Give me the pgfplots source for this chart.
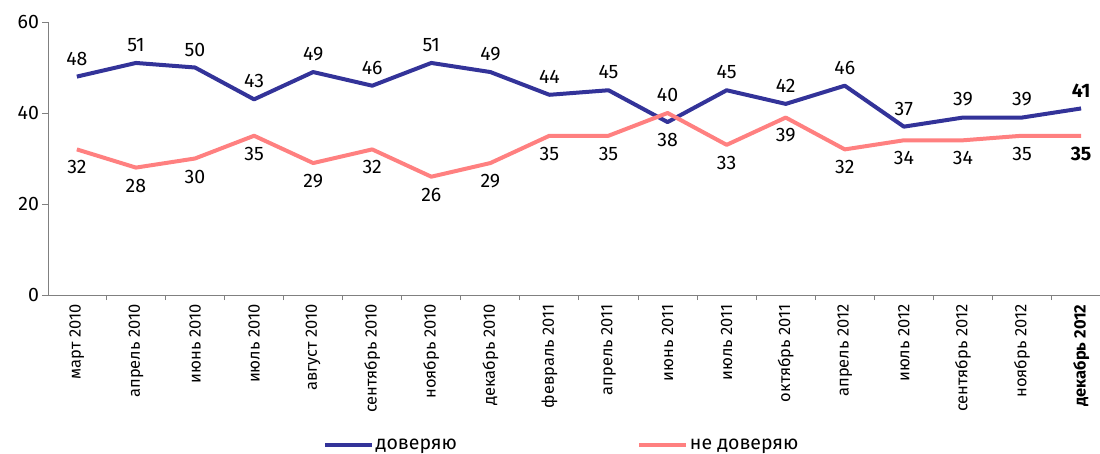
\documentclass[border=0pt]{standalone}
\usepackage{fontspec}
\setmainfont{Fira Sans}
\usepackage{pgfplots}
\pgfplotsset{compat=1.18}
\definecolor{trustblue}{HTML}{333399}
\definecolor{distrustpink}{HTML}{FF8080}
\definecolor{axisgray}{HTML}{808080}

\pgfplotstableread{
x trust distrust
0  48 32
1  51 28
2  50 30
3  43 35
4  49 29
5  46 32
6  51 26
7  49 29
8  44 35
9  45 35
10 38 40
11 45 33
12 42 39
13 46 32
14 37 34
15 39 34
16 39 35
17 41 35
}\survey

\newcommand{\lblfont}{\fontsize{19.5bp}{21bp}\selectfont}

\begin{document}
\begin{tikzpicture}
\useasboundingbox (0,0) rectangle (1100bp,454bp);
\begin{axis}[
  at={(48.5bp,159bp)}, anchor=south west,
  scale only axis, width=1051.5bp, height=273bp,
  xmin=-0.48, xmax=17.32, ymin=0, ymax=60,
  axis x line=bottom, axis y line=left,
  axis line style={axisgray, line width=1bp, -},
  xtick={0,...,17},
  xticklabels={март 2010, апрель 2010, июнь 2010, июль 2010, август 2010,
    сентябрь 2010, ноябрь 2010, декабрь 2010, февраль 2011, апрель 2011,
    июнь 2011, июль 2011, октябрь 2011, апрель 2012, июль 2012,
    сентябрь 2012, ноябрь 2012, \textbf{декабрь 2012}},
  x tick label style={rotate=90, anchor=east, font=\fontsize{16.5bp}{18bp}\selectfont},
  minor x tick num=1,
  ytick={0,20,40,60},
  y tick label style={font=\lblfont},
  tick align=outside,
  major tick length=6bp,
  minor tick length=5bp,
  tick style={axisgray, line width=1bp},
  every major x tick/.append style={draw=none},
  /pgf/number format/assume math mode=true,
  clip=false,
  legend style={at={(0.488,-0.548)}, anchor=center, draw=none, fill=none,
    legend columns=2, font=\lblfont,
    /tikz/column 2/.style={column sep=179bp},
    nodes={inner sep=1.5bp}},
  legend image code/.code={\draw[#1] (0bp,0bp) -- (47bp,0bp);},
]
\addplot[trustblue, line width=4bp, line join=round] table[x=x, y=trust] {\survey};
\addlegendentry{доверяю}
\addplot[distrustpink, line width=4bp, line join=round] table[x=x, y=distrust] {\survey};
\addlegendentry{не доверяю}

% value labels
\addplot[draw=none, forget plot, nodes near coords, point meta=explicit symbolic,
  nodes near coords style={anchor=center, yshift=18bp, font=\lblfont, text=black}]
  coordinates {(0,48)[48] (1,51)[51] (2,50)[50] (3,43)[43] (4,49)[49] (5,46)[46]
    (6,51)[51] (7,49)[49] (8,44)[44] (9,45)[45] (11,45)[45] (12,42)[42]
    (13,46)[46] (14,37)[37] (15,39)[39] (16,39)[39] (17,41)[\textbf{41}]
    (10,40)[40]};
\addplot[draw=none, forget plot, nodes near coords, point meta=explicit symbolic,
  nodes near coords style={anchor=center, yshift=-18bp, font=\lblfont, text=black}]
  coordinates {(0,32)[32] (1,28)[28] (2,30)[30] (3,35)[35] (4,29)[29] (5,32)[32]
    (6,26)[26] (7,29)[29] (8,35)[35] (9,35)[35] (11,33)[33] (12,39)[39]
    (13,32)[32] (14,34)[34] (15,34)[34] (16,35)[35] (17,35)[\textbf{35}]
    (10,38)[38]};
\end{axis}
\end{tikzpicture}
\end{document}
